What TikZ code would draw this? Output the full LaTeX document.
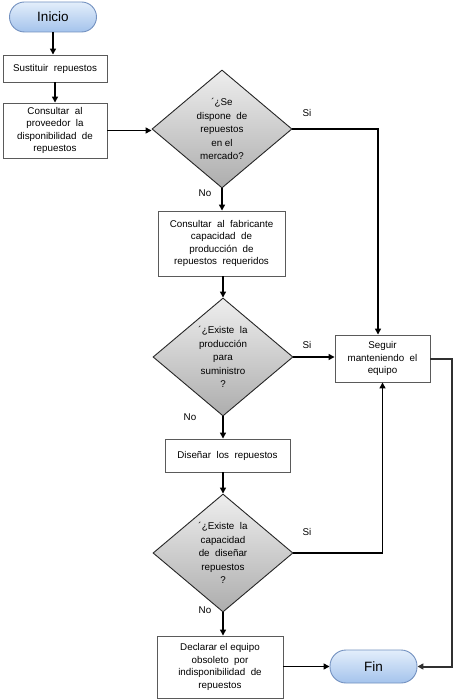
\documentclass[tikz,border=0pt]{standalone}
\usepackage{fontspec}
\setmainfont{Liberation Sans}
\usetikzlibrary{shapes.geometric,arrows.meta}
\definecolor{boxline}{HTML}{5A5A5A}
\definecolor{termline}{HTML}{7391C0}
\definecolor{termtop}{HTML}{E3EEFB}
\definecolor{termbot}{HTML}{A4C3EC}
\definecolor{dectop}{HTML}{EEEEEE}
\definecolor{decbot}{HTML}{ADADAD}
\definecolor{sideline}{HTML}{303030}
\tikzset{
  procbox/.style={draw=boxline, line width=0.9pt, fill=white, align=center,
    font=\fontsize{9.8}{12.5}\selectfont, inner sep=1pt},
  termbox/.style={draw=termline, line width=0.9pt, rounded corners=15pt,
    top color=termtop, bottom color=termbot, font=\fontsize{13.5}{15}\selectfont,
    minimum width=87pt, inner sep=0pt},
  decbox/.style={diamond, draw=black!85, line width=0.9pt, top color=dectop,
    bottom color=decbot, align=center, font=\fontsize{9.8}{13.5}\selectfont,
    inner sep=0pt, aspect=1.19, minimum width=140pt, minimum height=118pt},
  arr/.style={draw=black, line width=1.3pt, -{Triangle[length=6pt,width=6pt]}},
  sidearr/.style={draw=sideline, line width=2pt, -{Triangle[length=6pt,width=6pt]}},
  lbl/.style={font=\fontsize{9.8}{11}\selectfont, inner sep=0pt}
}
\begin{document}
\begin{tikzpicture}[x=1pt,y=-1pt]
\useasboundingbox (0,0) rectangle (454,700);
\fill[white] (0,0) rectangle (454,700);

\node[termbox, minimum height=30pt] (inicio) at (53,17) {Inicio};
\node[procbox, minimum width=104pt, minimum height=27pt] (sust) at (55,68.5) {Sustituir\ \ repuestos};
\node[procbox, minimum width=104pt, minimum height=55pt] (prov) at (55,130.5)
  {Consultar\ \ al\\proveedor\ \ la\\disponibilidad\ \ de\\repuestos};
\node[decbox] (d1) at (222,129)
  {´¿Se\\dispone\ \ de\\repuestos\\en el\\mercado?};
\node[procbox, minimum width=127pt, minimum height=65pt] (fab) at (221.5,243.5)
  {Consultar\ \ al\ \ fabricante\\capacidad\ \ de\\producción\ \ de\\repuestos\ \ requeridos};
\node[decbox] (d2) at (223,357)
  {´¿Existe\ \ la\\producción\\para\\suministro\\?};
\node[procbox, minimum width=95pt, minimum height=47pt] (seguir) at (382.5,358.5)
  {Seguir\\manteniendo\ \ el\\equipo};
\node[procbox, minimum width=125pt, minimum height=33pt] (dis) at (227.5,455.5)
  {Diseñar\ \ los\ \ repuestos};
\node[decbox] (d3) at (223,553)
  {´¿Existe\ \ la\\capacidad\\de\ \ diseñar\\repuestos\\?};
\node[procbox, minimum width=126pt, minimum height=62pt] (decl) at (220,667)
  {Declarar el equipo\\obsoleto\ \ por\\indisponibilidad\ \ de\\repuestos};
\node[termbox, minimum height=33pt, rounded corners=16pt] (fin) at (373.5,666.5) {Fin};

% connectors
\draw[arr] (inicio.south) -- (inicio.south |- sust.north);
\draw[arr] (sust.south) -- (prov.north);
\draw[arr] (prov.east) -- (prov.east -| d1.west);
\draw[arr] (d1.east) -| ([xshift=-4.5pt]seguir.north);
\draw[arr] (d1.south) -- (d1.south |- fab.north);
\draw[arr] (fab.south -| d2.north) -- (d2.north);
\draw[arr] (d2.east) -- (d2.east -| seguir.west);
\draw[arr] (d2.south) -- (d2.south |- dis.north);
\draw[arr] (dis.south -| d3.north) -- (d3.north);
\draw[arr] (d3.east) -| (seguir.south);
\draw[arr] (d3.south) -- (d3.south |- decl.north);
\draw[arr] (decl.east |- fin.west) -- (fin.west);
\draw[sidearr] (seguir.east) -- ++(22,0) |- (fin.east);

% labels
\node[lbl] (si1) at (307,113) {Si};
\node[lbl] (no1) at (205,193) {No};
\node[lbl] (si2) at (307,345) {Si};
\node[lbl] (no2) at (190,417) {No};
\node[lbl] (si3) at (307,532) {Si};
\node[lbl] (no3) at (205,610) {No};
\end{tikzpicture}
\end{document}
